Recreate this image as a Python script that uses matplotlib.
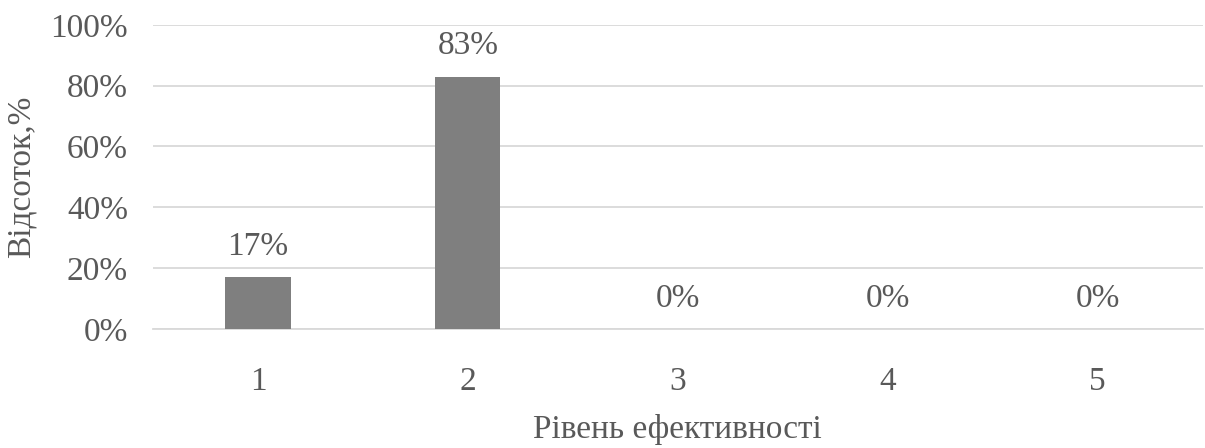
import matplotlib
matplotlib.use("Agg")
import matplotlib.pyplot as plt
import numpy as np

# data
levels = ["1", "2", "3", "4", "5"]
shares = [0.17, 0.83, 0.0, 0.0, 0.0]
yticks = [0, 0.2, 0.4, 0.6, 0.8, 1.0]
ytick_labels = ["0%", "20%", "40%", "60%", "80%", "100%"]

text_col = "#595959"
plt.rcParams['font.family'] = ['Liberation Serif', 'DejaVu Serif']

fig = plt.figure(figsize=(12.05, 4.48), dpi=100)
ax = fig.add_axes([0.127, 0.2656, 0.871, 0.679])

x = np.arange(len(levels))
ax.bar(x, shares, width=0.31, color="#7f7f7f", zorder=3)

for xi, v in zip(x, shares):
    ax.text(xi, v + 0.05, f"{int(round(v * 100))}%", ha="center", va="bottom",
            fontsize=24, color=text_col)

ax.set_xlim(-0.5, len(levels) - 0.5)
ax.set_ylim(0, 1.0)
ax.set_yticks(yticks)
ax.set_yticklabels(ytick_labels)
ax.set_xticks(x)
ax.set_xticklabels(levels)
ax.tick_params(axis="both", length=0, labelsize=24, labelcolor=text_col)
ax.tick_params(axis="y", pad=18)
ax.tick_params(axis="x", pad=27)

ax.yaxis.grid(True, color="#d9d9d9", linewidth=1.3, zorder=0)
for s in ["top", "right", "left"]:
    ax.spines[s].set_visible(False)
ax.spines["bottom"].set_color("#d9d9d9")
ax.spines["bottom"].set_linewidth(1.3)

ax.set_ylabel("Відсоток,%", fontsize=24, color=text_col, labelpad=10)
ax.set_xlabel("Рівень ефективності", fontsize=24, color=text_col, labelpad=12)

fig.savefig("out.png", dpi=100)
